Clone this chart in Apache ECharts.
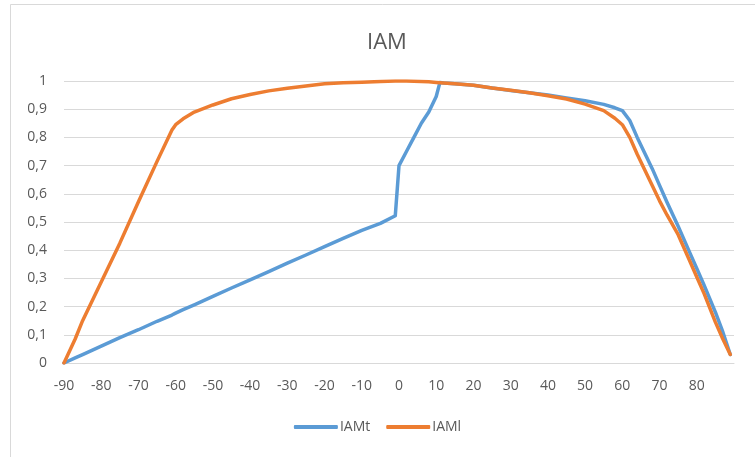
<!DOCTYPE html>
<html>
<head>
<meta charset="utf-8">
<script src="https://cdn.jsdelivr.net/npm/echarts@6/dist/echarts.min.js"></script>
<style>
html,body{margin:0;padding:0;background:#fff;}
#chart{width:755px;height:457px;}
</style>
</head>
<body>
<div id="chart"></div>
<script>
const titleText = 'IAM';
const seriesNames = ['IAMt', 'IAMl'];
const angles = [-90,-87,-85,-80,-75,-70,-65,-61,-60,-58,-55,-50,-45,-40,-35,-30,-25,-20,-15,-10,-5,-1,0,2,4,6,8,10,11,12,15,20,25,30,35,40,45,50,55,58,60,62,64,66,68,70,72,75,78,80,82,85,87,89];
const iamT = [0,0.018,0.03,0.06,0.09,0.118,0.148,0.17,0.177,0.189,0.206,0.236,0.266,0.295,0.324,0.354,0.383,0.413,0.442,0.47,0.495,0.522,0.7,0.75,0.8,0.85,0.89,0.945,0.995,0.993,0.99,0.985,0.975,0.966,0.958,0.95,0.94,0.93,0.917,0.905,0.895,0.86,0.8,0.745,0.69,0.63,0.57,0.485,0.395,0.335,0.275,0.18,0.11,0.03];
const iamL = [0,0.085,0.15,0.287,0.425,0.572,0.715,0.826,0.845,0.866,0.89,0.915,0.937,0.952,0.965,0.974,0.982,0.99,0.994,0.996,0.998,1.0,1.0,1.0,0.999,0.998,0.997,0.995,0.994,0.993,0.99,0.985,0.975,0.967,0.958,0.948,0.936,0.918,0.895,0.868,0.845,0.8,0.74,0.685,0.63,0.575,0.525,0.455,0.365,0.305,0.245,0.145,0.085,0.03];
const xTicks = [-90,-80,-70,-60,-50,-40,-30,-20,-10,0,10,20,30,40,50,60,70,80];
const yTicks = [0,0.1,0.2,0.3,0.4,0.5,0.6,0.7,0.8,0.9,1];

const pairs = (xs, ys) => xs.map((x, i) => [x, ys[i]]);
const font = '"Open Sans", sans-serif';
const chart = echarts.init(document.getElementById('chart'));
chart.setOption({
  animation: false,
  backgroundColor: '#ffffff',
  title: {
    text: titleText, left: 362, top: 27,
    textStyle: { fontFamily: font, fontSize: 22, fontWeight: 'normal', color: '#595959' }
  },
  legend: {
    bottom: 18, left: 'center',
    itemWidth: 44, itemHeight: 4, itemGap: 16, icon: 'roundRect',
    textStyle: { fontFamily: font, fontSize: 14, color: '#595959', padding: [0,0,0,-3] },
    data: seriesNames
  },
  grid: { left: 64, right: 21, top: 81, bottom: 94, containLabel: false },
  xAxis: {
    type: 'value', min: -90, max: 90, interval: 10,
    axisLine: { show: true, lineStyle: { color: '#D9D9D9' } },
    axisTick: { show: false },
    splitLine: { show: false },
    axisLabel: {
      margin: 16, fontFamily: font, fontSize: 14, color: '#595959',
      formatter: v => xTicks.indexOf(v) >= 0 ? String(v) : ''
    }
  },
  yAxis: {
    type: 'value', min: 0, max: 1, interval: 0.1,
    axisLine: { show: false }, axisTick: { show: false },
    splitLine: { lineStyle: { color: '#D9D9D9', width: 1 } },
    axisLabel: {
      margin: 17, fontFamily: font, fontSize: 14, color: '#595959',
      formatter: v => {
        const t = yTicks.find(k => Math.abs(k - v) < 1e-6);
        return t === undefined ? '' : String(t).replace('.', ',');
      }
    }
  },
  graphic: [
    { type: 'line', shape: { x1: 10.5, y1: 4.5, x2: 10.5, y2: 457 }, style: { stroke: '#D9D9D9', lineWidth: 1 } },
    { type: 'line', shape: { x1: 10.5, y1: 4.5, x2: 755, y2: 4.5 }, style: { stroke: '#D9D9D9', lineWidth: 1 } }
  ],
  series: [
    { name: seriesNames[0], type: 'line', data: pairs(angles, iamT), showSymbol: false, smooth: false,
      color: '#5B9BD5', lineStyle: { width: 3.5, color: '#5B9BD5', cap: 'round', join: 'round' } },
    { name: seriesNames[1], type: 'line', data: pairs(angles, iamL), showSymbol: false, smooth: false,
      color: '#ED7D31', lineStyle: { width: 3.5, color: '#ED7D31', cap: 'round', join: 'round' } }
  ]
});
</script>
</body>
</html>
